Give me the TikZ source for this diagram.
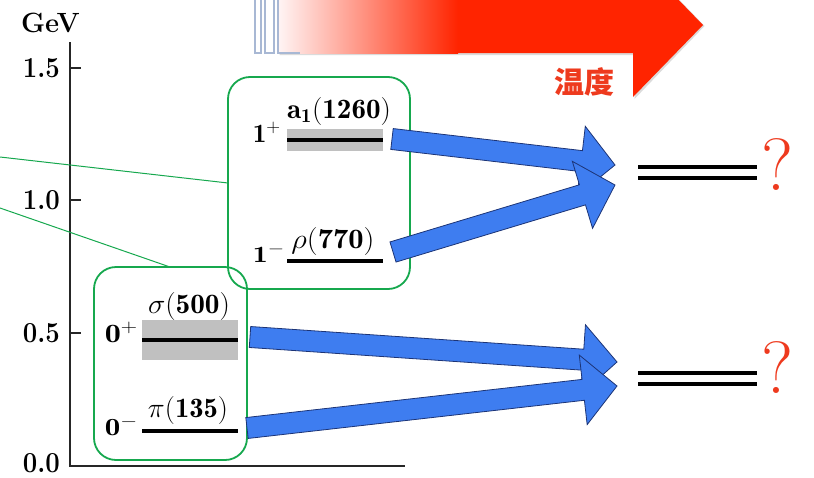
\RequirePackage{fix-cm}
\documentclass[tikz,border=0pt]{standalone}
\usepackage{graphicx}
\usepackage{fontspec}
\newfontfamily\cjkfont{Noto Sans CJK SC}
\usetikzlibrary{calc}

\definecolor{boxgreen}{RGB}{22,168,78}
\definecolor{arrowblue}{RGB}{62,125,240}
\definecolor{arrowedge}{RGB}{28,52,118}
\definecolor{hotred}{RGB}{255,36,0}
\definecolor{qred}{RGB}{238,58,30}
\definecolor{bandgray}{RGB}{192,192,192}
\definecolor{stripeedge}{RGB}{168,184,212}

\tikzset{
  axisline/.style={line width=2.6pt, black!85},
  axlabel/.style={inner sep=0pt, font=\fontsize{26}{30}\selectfont\bfseries},
  jplabel/.style={inner sep=0pt, anchor=base east, font=\fontsize{25}{28}\selectfont},
  pname/.style={inner sep=0pt, anchor=base, font=\fontsize{23}{26}\selectfont},
  levelbar/.style={line width=4pt, black},
  band/.style={fill=bandgray},
  greenbox/.style={draw=boxgreen, line width=1.8pt, rounded corners=22pt},
  callout/.style={draw=boxgreen, line width=1pt},
  blockarrow/.style={fill=arrowblue, draw=arrowedge, line width=0.8pt, line join=miter},
  qmark/.style={inner sep=0pt, anchor=base west, text=qred, font=\fontsize{74}{80}\selectfont},
}

% text set to a given width and height above the baseline (in px = pt)
\newcommand\wbox[3]{\resizebox{#1pt}{#2pt}{#3}}

% block arrow from tail #1 to tip #2 (shaft half width 10.5, head 34 long, 35 half wide)
\newcommand\blockarrow[2]{%
  \coordinate (#1-hb) at ($(#2)!34pt!(#1)$);
  \draw[blockarrow]
    ($(#1)!10.5pt!90:(#2)$) -- ($(#1-hb)!10.5pt!90:(#2)$) --
    ($(#1-hb)!35pt!90:(#2)$) -- (#2) --
    ($(#1-hb)!35pt!-90:(#2)$) -- ($(#1-hb)!10.5pt!-90:(#2)$) --
    ($(#1)!10.5pt!-90:(#2)$) -- cycle;}

\begin{document}
\begin{tikzpicture}[x=1pt, y=-1pt]
\useasboundingbox (0,0) rectangle (814,477);
\clip (0,0) rectangle (814,477);

% temperature arrow with soft shadow
\fill[black!14] (279.5,-3) -- (634.5,-3) -- (634.5,-47) -- (704.5,26) -- (634.5,99) -- (634.5,55) -- (279.5,55) -- cycle;
\fill[hotred] (278,-3) -- (633,-3) -- (633,-47) -- (703,25) -- (633,97) -- (633,53) -- (278,53) -- cycle;
\shade[left color=red!4!white, middle color=hotred!38!white, right color=hotred]
  (278,-3) rectangle (458,53);
\draw[stripeedge, line width=1.2pt] (278,-3) -- (278,53) -- (300,53);
\draw[stripeedge, line width=1.2pt, fill=white] (255,-3) rectangle (261,53);
\draw[stripeedge, line width=1.2pt, fill=white] (265,-3) rectangle (274,53);
\node[inner sep=0pt, text=qred, font=\cjkfont\bfseries\fontsize{30}{32}\selectfont] (temp) at (584,82) {温度};

% energy axis
\draw[axisline] (70,42) -- (70,466) -- (405,466);
\draw[axisline] (70,68) -- (81,68);
\draw[axisline] (70,200) -- (81,200);
\draw[axisline] (70,333) -- (81,333);
\node[axlabel, anchor=base east] (gev) at (80,32) {\scalebox{1.05}[1.07]{GeV}};
\node[axlabel, anchor=east] (t15) at (60,68) {\wbox{37}{19}{1.5}};
\node[axlabel, anchor=east] (t10) at (60,200) {\wbox{37}{19}{1.0}};
\node[axlabel, anchor=east] (t05) at (60,333) {\wbox{37}{19}{0.5}};
\node[axlabel, anchor=east] (t00) at (60,463) {\wbox{37}{19}{0.0}};

% callout lines
\draw[callout] (0,157) -- (228,183);
\draw[callout] (0,208) -- (170,267);

% meson levels
\fill[band] (287,129) rectangle (383,151);
\draw[levelbar] (287,140) -- (383,140);
\draw[levelbar] (287,261) -- (383,261);
\fill[band] (142,320) rectangle (238,360);
\draw[levelbar] (142,340) -- (238,340);
\draw[levelbar] (142,431) -- (238,431);

\node[jplabel] (jpA) at (281,142) {\wbox{28}{20}{$\mathbf{1}^{+}$}};
\node[jplabel] (jpR) at (285,262) {\wbox{32}{18}{$\mathbf{1}^{-}$}};
\node[jplabel] (jpS) at (138,342) {\wbox{33}{20}{$\mathbf{0}^{+}$}};
\node[jplabel] (jpP) at (138,435) {\wbox{33}{19}{$\mathbf{0}^{-}$}};

\node[pname] (nA) at (339,118) {\wbox{104}{21}{$\mathbf{a}_{\mathbf{1}}\mathbf{(1260)}$}};
\node[pname] (nR) at (333,248) {\wbox{83}{21}{$\rho(\mathbf{770})$}};
\node[pname] (nS) at (189,313) {\wbox{82}{21}{$\sigma(\mathbf{500})$}};
\node[pname] (nP) at (188,417) {\wbox{80}{21}{$\pi(\mathbf{135})$}};

% grouping boxes
\draw[greenbox] (228,77) rectangle (410,289);
\draw[greenbox] (94,267) rectangle (247,460);

% degenerate levels at high temperature
\draw[levelbar] (638,167) -- (757,167);
\draw[levelbar] (638,178) -- (757,178);
\draw[levelbar] (638,373) -- (757,373);
\draw[levelbar] (638,384) -- (757,384);
\node[qmark] (q1) at (761,190) {?};
\node[qmark] (q2) at (761,393) {?};

% arrows to the high-temperature states
\coordinate (tA) at (392,139); \coordinate (pA) at (615,165);
\coordinate (tR) at (393,252); \coordinate (pR) at (615,185);
\coordinate (tS) at (250,337); \coordinate (pS) at (617,362);
\coordinate (tP) at (247,428); \coordinate (pP) at (617,386);
\blockarrow{tA}{pA}
\blockarrow{tR}{pR}
\blockarrow{tS}{pS}
\blockarrow{tP}{pP}
\end{tikzpicture}
\end{document}
